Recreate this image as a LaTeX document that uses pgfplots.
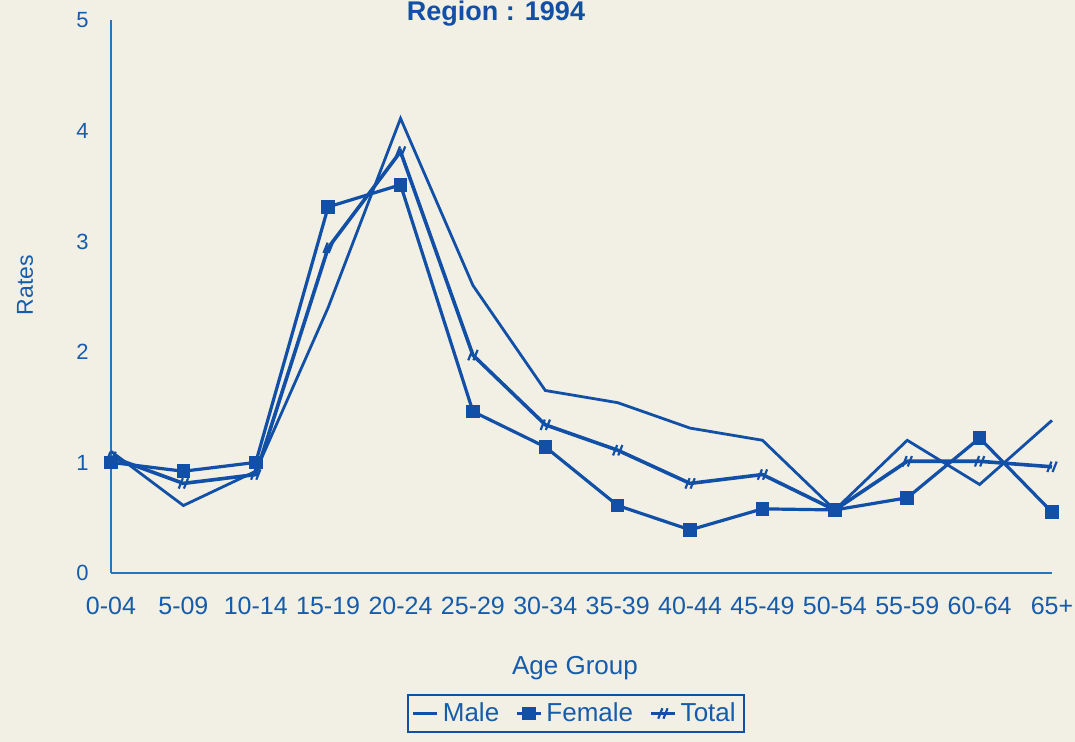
\documentclass[border=0pt]{standalone}
\usepackage{pgfplots}
\pgfplotsset{compat=1.18}
\usepackage{pgfplotstable}
\usepackage{fontspec}
\setmainfont{Liberation Sans}

\definecolor{paper}{RGB}{242,240,228}
\definecolor{ink}{RGB}{18,80,168}
\definecolor{axblue}{RGB}{35,118,192}
\definecolor{txtblue}{RGB}{22,92,172}

% two slanted strokes, like the "#" marks of the scan
\pgfdeclareplotmark{dslash}{%
  \pgfpathmoveto{\pgfqpoint{-0.9\pgfplotmarksize}{-\pgfplotmarksize}}%
  \pgfpathlineto{\pgfqpoint{-0.1\pgfplotmarksize}{\pgfplotmarksize}}%
  \pgfpathmoveto{\pgfqpoint{0.1\pgfplotmarksize}{-\pgfplotmarksize}}%
  \pgfpathlineto{\pgfqpoint{0.9\pgfplotmarksize}{\pgfplotmarksize}}%
  \pgfusepathqstroke}

\pgfplotstableread{
x  male female total
0  1.10 1.00 1.05
1  0.61 0.92 0.81
2  0.92 1.00 0.89
3  2.40 3.31 2.94
4  4.11 3.51 3.81
5  2.60 1.46 1.97
6  1.65 1.14 1.34
7  1.54 0.61 1.11
8  1.31 0.39 0.81
9  1.20 0.58 0.89
10 0.57 0.57 0.57
11 1.20 0.68 1.01
12 0.80 1.22 1.01
13 1.38 0.55 0.96
}\agedata

\begin{document}
\begin{tikzpicture}
\fill[paper,use as bounding box] (-55.5pt,-84.5pt) rectangle (482pt,286.5pt);

\begin{axis}[at={(0,0)}, anchor=south west,
  scale only axis, width=470.5pt, height=276.5pt,
  xmin=0, xmax=13, ymin=0, ymax=5,
  axis x line=bottom, axis y line=left,
  axis line style={axblue, line width=1pt, -},
  clip=false,
  xtick={0,...,13},
  xticklabels={0-04,5-09,10-14,15-19,20-24,25-29,30-34,35-39,40-44,45-49,50-54,55-59,60-64,65+},
  ytick={0,...,5},
  major tick length=0pt,
  /pgf/number format/assume math mode=true,
  xticklabel style={font=\fontsize{12.5}{14}\selectfont, text=txtblue, inner sep=0pt,
    anchor=north, yshift=-11.5pt, text height=9pt, text depth=0pt},
  yticklabel style={font=\fontsize{11}{12}\selectfont, text=txtblue, inner sep=0pt,
    anchor=east, xshift=-11pt, text height=7.9pt, text depth=0pt},
  legend columns=3,
  legend style={at={(0.494,-0.254)}, anchor=center, draw=ink, line width=1pt,
    fill=none, font=\fontsize{13}{15}\selectfont, text=txtblue,
    inner xsep=2pt, inner ysep=2pt,
    /tikz/every even column/.append style={column sep=6pt}},
  legend image code/.code={%
    \draw[mark repeat=2,mark phase=2,#1] plot coordinates {(0pt,0pt) (6pt,0pt) (12pt,0pt)};},
]
\addplot[ink, line width=1.4pt] table[x=x, y=male] {\agedata};
\addlegendentry{Male}
\addplot[ink, line width=1.6pt, mark=square*, mark size=2.6pt] table[x=x, y=female] {\agedata};
\addlegendentry{Female}
\addplot[ink, line width=1.8pt, mark=dslash, mark size=2.6pt, mark options={solid, line width=1.1pt}] table[x=x, y=total] {\agedata};
\addlegendentry{Total}
\end{axis}

\node[ink, font=\bfseries\fontsize{13.5}{16}\selectfont, anchor=base] at (192.5pt,276pt) {Region : 1994};
\node[txtblue, rotate=90, font=\fontsize{11.5}{13}\selectfont] at (-43pt,144pt) {Rates};
\node[txtblue, font=\fontsize{13}{15}\selectfont] at (232pt,-47.5pt) {Age Group};
\end{tikzpicture}
\end{document}
